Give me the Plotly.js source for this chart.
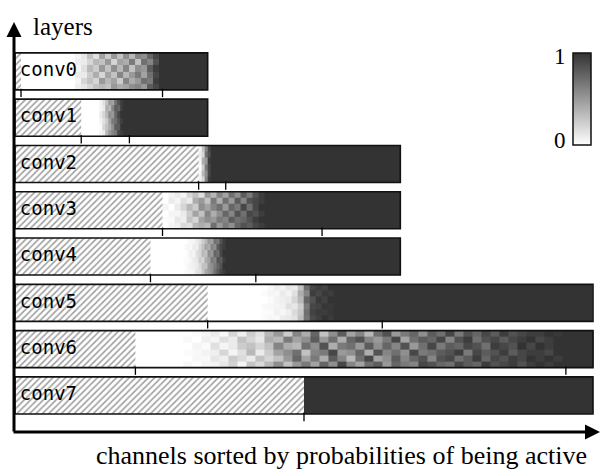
<!DOCTYPE html>
<html>
<head>
<meta charset="utf-8">
<script src="https://cdn.plot.ly/plotly-3.0.1.min.js"></script>
<style>
  body { margin: 0; background: #fff; }
  #chart { width: 609px; height: 474px; }
</style>
</head>
<body>
<div id="chart"></div>
<script>
// ---- DATA ----
let layerNames = ["conv0", "conv1", "conv2", "conv3", "conv4", "conv5", "conv6", "conv7"];
let channelCounts = [64, 64, 128, 128, 128, 192, 192, 192];
let prunedCounts = [2, 22, 61, 49, 45, 64, 40, 96];
let markTicks = [[2, 49], [22, 38], [61, 70], [49, 102], [45, 80], [64, 122], [40, 183], [96]];

// where the grey zone starts and how many channels one cell covers
let noiseStart = [20, 28, 61, 49, 56, 82, 56, 96];
let noiseStep = [2, 1, 1, 2, 1, 2, 3, 1];

// probability of being active, 6 sample rows per layer (after the zone: always active)
let noiseRows = [
  [
    [0.05, 0.12, 0.3, 0.15, 0.45, 0.25, 0.5, 0.3, 0.55, 0.35, 0.6, 0.55, 0.75, 0.9],
    [0.08, 0.1, 0.2, 0.35, 0.3, 0.5, 0.2, 0.45, 0.4, 0.65, 0.3, 0.7, 0.6, 0.85],
    [0.05, 0.15, 0.35, 0.25, 0.5, 0.3, 0.55, 0.35, 0.6, 0.3, 0.55, 0.5, 0.8, 0.95],
    [0.1, 0.1, 0.25, 0.4, 0.2, 0.45, 0.3, 0.6, 0.35, 0.5, 0.65, 0.45, 0.7, 0.9],
    [0.05, 0.2, 0.3, 0.2, 0.5, 0.35, 0.45, 0.25, 0.6, 0.4, 0.5, 0.7, 0.65, 0.95],
    [0.08, 0.12, 0.2, 0.3, 0.35, 0.3, 0.5, 0.4, 0.45, 0.55, 0.6, 0.5, 0.8, 0.9],
  ],
  [
    [0.05, 0.15, 0.3, 0.5, 0.45, 0.7, 0.85, 0.95],
    [0.05, 0.1, 0.4, 0.35, 0.6, 0.8, 0.75, 0.95],
    [0.1, 0.2, 0.35, 0.55, 0.5, 0.75, 0.9, 1],
    [0.05, 0.15, 0.25, 0.45, 0.65, 0.7, 0.85, 0.95],
    [0.02, 0.2, 0.3, 0.4, 0.55, 0.8, 0.8, 1],
    [0.05, 0.1, 0.35, 0.5, 0.6, 0.65, 0.9, 0.95],
  ],
  [
    [0.05, 0.3, 0.6, 0.9],
    [0.1, 0.2, 0.7, 0.85],
    [0.05, 0.4, 0.5, 0.95],
    [0.02, 0.25, 0.65, 0.9],
    [0.05, 0.35, 0.55, 0.9],
    [0.08, 0.2, 0.6, 0.95],
  ],
  [
    [0, 0.05, 0.1, 0.05, 0.2, 0.3, 0.15, 0.5, 0.35, 0.6, 0.45, 0.7, 0.55, 0.8, 0.65, 0.85, 0.95],
    [0, 0.1, 0.05, 0.15, 0.1, 0.4, 0.5, 0.3, 0.65, 0.4, 0.7, 0.5, 0.8, 0.6, 0.85, 0.9, 0.95],
    [0.05, 0, 0.1, 0.2, 0.35, 0.25, 0.55, 0.45, 0.6, 0.7, 0.5, 0.75, 0.65, 0.9, 0.7, 0.9, 1],
    [0, 0.05, 0.05, 0.1, 0.25, 0.45, 0.3, 0.6, 0.4, 0.55, 0.75, 0.6, 0.85, 0.7, 0.9, 0.85, 0.95],
    [0.02, 0.03, 0.12, 0.08, 0.3, 0.2, 0.45, 0.55, 0.5, 0.65, 0.6, 0.8, 0.7, 0.75, 0.85, 0.95, 1],
    [0, 0.06, 0.08, 0.18, 0.15, 0.35, 0.4, 0.35, 0.7, 0.5, 0.65, 0.55, 0.75, 0.85, 0.8, 0.9, 0.95],
  ],
  [
    [0, 0.02, 0.05, 0.05, 0.1, 0.15, 0.25, 0.35, 0.5, 0.45, 0.7, 0.65, 0.85, 0.95],
    [0.02, 0.05, 0.03, 0.1, 0.08, 0.2, 0.3, 0.45, 0.4, 0.6, 0.55, 0.8, 0.9, 0.95],
    [0, 0.03, 0.08, 0.05, 0.15, 0.2, 0.35, 0.3, 0.55, 0.5, 0.75, 0.7, 0.9, 1],
    [0.02, 0.02, 0.05, 0.1, 0.12, 0.25, 0.2, 0.4, 0.45, 0.65, 0.6, 0.85, 0.8, 0.95],
    [0.01, 0.04, 0.06, 0.08, 0.1, 0.18, 0.3, 0.3, 0.5, 0.55, 0.65, 0.75, 0.85, 1],
    [0.02, 0.03, 0.04, 0.06, 0.14, 0.15, 0.28, 0.42, 0.48, 0.55, 0.7, 0.8, 0.9, 0.95],
  ],
  [
    [0, 0.03, 0.08, 0.05, 0.12, 0.1, 0.3, 0.7, 0.9, 0.95, 0.92, 1],
    [0.02, 0.05, 0.04, 0.1, 0.06, 0.15, 0.4, 0.6, 0.95, 0.9, 0.97, 0.95],
    [0, 0.02, 0.06, 0.08, 0.1, 0.2, 0.35, 0.75, 0.85, 0.97, 0.93, 1],
    [0.03, 0.04, 0.05, 0.07, 0.15, 0.12, 0.25, 0.65, 0.9, 0.92, 0.98, 0.97],
    [0.01, 0.02, 0.07, 0.04, 0.08, 0.18, 0.28, 0.7, 0.92, 0.96, 0.95, 0.98],
    [0.02, 0.04, 0.03, 0.09, 0.11, 0.14, 0.32, 0.68, 0.88, 0.94, 1, 0.96],
  ],
  [
    [0, 0.02, 0.05, 0.1, 0.03, 0.2, 0.08, 0.25, 0.15, 0.35, 0.5, 0.25, 0.6, 0.4, 0.75, 0.3, 0.55, 0.8, 0.45, 0.6, 0.35, 0.7, 0.85, 0.5, 0.65, 0.75, 0.55, 0.8, 0.7, 0.9, 0.65, 0.85, 0.75, 0.9, 0.8, 0.95, 0.85, 0.9, 0.95, 0.95, 1, 0.97],
    [0.03, 0, 0.08, 0.05, 0.15, 0.1, 0.3, 0.2, 0.12, 0.4, 0.35, 0.65, 0.45, 0.55, 0.8, 0.5, 0.7, 0.4, 0.75, 0.85, 0.6, 0.5, 0.65, 0.9, 0.45, 0.7, 0.8, 0.75, 0.9, 0.6, 0.85, 0.95, 0.7, 0.85, 0.9, 0.8, 0.9, 0.95, 1, 0.9, 0.95, 1],
    [0, 0.05, 0.02, 0.15, 0.05, 0.1, 0.25, 0.3, 0.2, 0.3, 0.6, 0.4, 0.35, 0.7, 0.55, 0.85, 0.4, 0.65, 0.7, 0.5, 0.8, 0.55, 0.75, 0.6, 0.85, 0.5, 0.7, 0.9, 0.65, 0.8, 0.75, 0.9, 0.85, 0.7, 0.95, 0.9, 0.85, 1, 0.9, 1, 0.95, 1],
    [0.02, 0.03, 0.06, 0.08, 0.2, 0.05, 0.15, 0.35, 0.1, 0.25, 0.45, 0.55, 0.7, 0.3, 0.6, 0.65, 0.9, 0.5, 0.55, 0.75, 0.4, 0.85, 0.6, 0.7, 0.55, 0.9, 0.65, 0.7, 0.8, 0.85, 0.95, 0.65, 0.9, 0.8, 0.85, 0.95, 0.8, 0.9, 0.95, 0.95, 0.9, 1],
    [0, 0.04, 0.03, 0.12, 0.08, 0.25, 0.18, 0.1, 0.3, 0.2, 0.3, 0.5, 0.75, 0.45, 0.65, 0.4, 0.8, 0.6, 0.35, 0.7, 0.9, 0.45, 0.55, 0.8, 0.6, 0.75, 0.85, 0.6, 0.85, 0.9, 0.7, 0.8, 0.95, 0.75, 0.9, 0.85, 0.95, 0.9, 1, 0.95, 1, 0.95],
    [0.04, 0.01, 0.05, 0.06, 0.12, 0.22, 0.05, 0.28, 0.18, 0.35, 0.55, 0.3, 0.5, 0.65, 0.45, 0.75, 0.55, 0.9, 0.6, 0.45, 0.7, 0.8, 0.5, 0.75, 0.65, 0.6, 0.9, 0.85, 0.75, 0.7, 0.9, 0.8, 0.75, 0.95, 0.85, 0.9, 0.95, 0.85, 0.95, 1, 0.95, 1],
  ],
  [[], [], [], [], [], []],
];

let darkGrey = "#333333";
let greyScale = [[0, "#ffffff"], [1, darkGrey]];
let serif = "Liberation Serif, Times New Roman, serif";

let traces = [];
let rowIdx = layerNames.map((n, i) => i);

//*******HEATMAP STRIPS*******
layerNames.forEach((name, i) => {
  let rows = noiseRows[i];
  let cols = rows[0].length;
  let hasWhite = noiseStart[i] > prunedCounts[i];
  let xEdges = [];
  if (hasWhite) xEdges.push(prunedCounts[i]);
  for (let k = 0; k <= cols; k++) xEdges.push(noiseStart[i] + k * noiseStep[i]);
  xEdges.push(channelCounts[i]);

  let z = rows.map((r) => (hasWhite ? [0] : []).concat(r, [1]));
  let nr = rows.length;
  let yEdges = [];
  for (let k = 0; k <= nr; k++) yEdges.push(i - 0.4 + (k * 0.8) / nr);

  traces.push({
    type: "heatmap",
    x: xEdges,
    y: yEdges,
    z: z,
    zmin: 0,
    zmax: 1,
    colorscale: greyScale,
    showscale: i === 0,
    hoverinfo: "skip",
    colorbar: {
      x: 559 / 586,
      xanchor: "left",
      xpad: 0,
      y: (432 - 99) / 410,
      yanchor: "middle",
      ypad: 0,
      len: 92,
      lenmode: "pixels",
      thickness: 18,
      thicknessmode: "pixels",
      outlinewidth: 1.5,
      outlinecolor: "#111",
      showticklabels: false,
      ticks: "",
    },
  });
});

//*******HATCHED (PRUNED) PART*******
traces.push({
  type: "bar",
  orientation: "h",
  y: rowIdx,
  x: prunedCounts,
  base: 0,
  width: 0.8,
  hoverinfo: "skip",
  marker: {
    color: "white",
    pattern: { shape: "/", fgcolor: "#a0a0a0", bgcolor: "white", size: 4.5, solidity: 0.35 },
    line: { width: 0 },
  },
});

//*******OUTLINES*******
traces.push({
  type: "bar",
  orientation: "h",
  y: rowIdx,
  x: channelCounts,
  base: 0,
  width: 0.8,
  hoverinfo: "skip",
  marker: { color: "rgba(0,0,0,0)", line: { color: "#111", width: 1.6 } },
});

//*******SMALL MARKS UNDER THE BARS*******
let tickX = [];
let tickY = [];
markTicks.forEach((ts, i) => {
  ts.forEach((t) => {
    tickX.push(t);
    tickY.push(i + 0.4 + 3 / 46.3);
  });
});
traces.push({
  type: "scatter",
  mode: "markers",
  x: tickX,
  y: tickY,
  hoverinfo: "skip",
  marker: { symbol: "line-ns", size: 6, color: "black", line: { color: "black", width: 1.3 } },
});

//*******LAYER NAMES*******
traces.push({
  type: "scatter",
  mode: "text",
  x: layerNames.map(() => 1.6),
  y: rowIdx,
  text: layerNames,
  textposition: "middle right",
  hoverinfo: "skip",
  textfont: { family: "DejaVu Sans Mono, monospace", size: 19, color: "black" },
});

//LAYOUT
let hiddenAxis = {
  showgrid: false,
  zeroline: false,
  showticklabels: false,
  ticks: "",
  showline: false,
  fixedrange: true,
};

let layout = {
  width: 609,
  height: 474,
  margin: { l: 14, r: 9, t: 22, b: 42 },
  paper_bgcolor: "white",
  plot_bgcolor: "white",
  showlegend: false,
  barmode: "overlay",
  xaxis: Object.assign({ range: [-0.332, 194.33] }, hiddenAxis),
  yaxis: Object.assign({ range: [7.79, -1.067] }, hiddenAxis),
  annotations: [
    {
      xref: "paper", yref: "paper", x: 0, y: 1, ax: 0, ay: 411,
      text: "", showarrow: true, arrowhead: 2, arrowsize: 1, arrowwidth: 3, arrowcolor: "black",
    },
    {
      xref: "paper", yref: "paper", x: 1, y: 0, ax: -588, ay: 0,
      text: "", showarrow: true, arrowhead: 2, arrowsize: 1, arrowwidth: 3, arrowcolor: "black",
    },
    {
      xref: "paper", yref: "paper", x: 17 / 586, y: 1, xanchor: "left", yanchor: "middle", yshift: -4,
      text: "layers", showarrow: false, font: { family: serif, size: 25, color: "black" },
    },
    {
      xref: "paper", yref: "paper", x: 575 / 586, y: -23 / 410, xanchor: "right", yanchor: "middle",
      text: "channels sorted by probabilities of being active", showarrow: false,
      font: { family: serif, size: 26, color: "black" },
    },
    {
      xref: "paper", yref: "paper", x: 546 / 586, y: (432 - 57) / 410, xanchor: "center", yanchor: "middle",
      text: "1", showarrow: false, font: { family: serif, size: 23, color: "black" },
    },
    {
      xref: "paper", yref: "paper", x: 546 / 586, y: (432 - 140) / 410, xanchor: "center", yanchor: "middle",
      text: "0", showarrow: false, font: { family: serif, size: 23, color: "black" },
    },
  ],
};

let config = { displayModeBar: false, staticPlot: true };

Plotly.newPlot("chart", traces, layout, config);
</script>
</body>
</html>
